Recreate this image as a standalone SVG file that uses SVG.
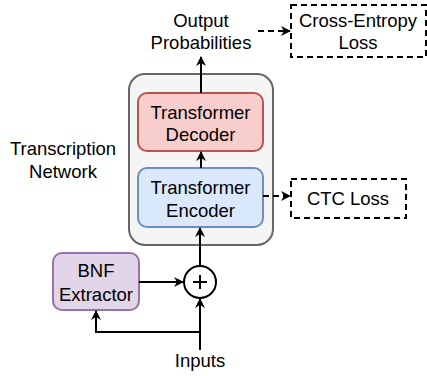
<svg xmlns="http://www.w3.org/2000/svg" width="427" height="376" viewBox="0 0 427 376">
<defs>
<marker id="ah" viewBox="0 0 10 10" refX="9" refY="5" markerWidth="10" markerHeight="10" markerUnits="userSpaceOnUse" orient="auto">
<path d="M0,0 L10,5 L0,10 L3,5 Z" fill="#000"/>
</marker>
<style>
text{font-family:"Liberation Sans",Arial,sans-serif;font-size:18.5px;fill:#000;text-anchor:middle}
.c{fill:none;stroke:#000;stroke-width:2}
.d{stroke-dasharray:6,4}
.db{fill:#fff;stroke:#000;stroke-width:2;stroke-dasharray:6,4}
</style>
</defs>
<rect width="427" height="376" fill="#fff"/>
<g id="transcription-network">
<rect x="129" y="74" width="144" height="171" rx="16" fill="#f5f5f5" stroke="#666" stroke-width="2"/>
<text x="63" y="155">Transcription</text>
<text x="63" y="178">Network</text>
</g>
<g id="decoder">
<rect x="138" y="93" width="125" height="58" rx="9" fill="#f8cecc" stroke="#b85450" stroke-width="2"/>
<text x="200.5" y="119">Transformer</text>
<text x="200.5" y="141">Decoder</text>
</g>
<g id="encoder">
<rect x="138" y="168" width="125" height="59" rx="9" fill="#dae8fc" stroke="#6c8ebf" stroke-width="2"/>
<text x="200.5" y="194">Transformer</text>
<text x="200.5" y="217">Encoder</text>
</g>
<g id="output">
<text x="201" y="27">Output</text>
<text x="201" y="49">Probabilities</text>
</g>
<g id="ce-loss">
<rect x="291" y="5" width="135" height="52" class="db"/>
<text x="358" y="27">Cross-Entropy</text>
<text x="358" y="49">Loss</text>
</g>
<g id="ctc-loss">
<rect x="291" y="179" width="115" height="39" class="db"/>
<text x="348" y="205">CTC Loss</text>
</g>
<g id="bnf">
<rect x="53" y="253" width="86" height="57" rx="9" fill="#e1d5e7" stroke="#9673a6" stroke-width="2"/>
<text x="96" y="277">BNF</text>
<text x="96" y="301">Extractor</text>
</g>
<g id="sum">
<circle cx="200" cy="282" r="16" fill="#fff" stroke="#000" stroke-width="2"/>
<path d="M193,282 H207 M200,275 V289" stroke="#000" stroke-width="2"/>
</g>
<g id="inputs">
<text x="200" y="367">Inputs</text>
</g>
<g id="connectors">
<path class="c" d="M201,93 V57" marker-end="url(#ah)"/>
<path class="c" d="M201,168 V152" marker-end="url(#ah)"/>
<path class="c" d="M200,266 V228" marker-end="url(#ah)"/>
<path class="c" d="M139,282 H183" marker-end="url(#ah)"/>
<path class="c" d="M200,350 V299" marker-end="url(#ah)"/>
<path class="c" d="M200,332 H96 V311" marker-end="url(#ah)"/>
<path class="c d" d="M258,31 H290" marker-end="url(#ah)"/>
<path class="c d" d="M263,196 H290" marker-end="url(#ah)"/>
</g>
</svg>
